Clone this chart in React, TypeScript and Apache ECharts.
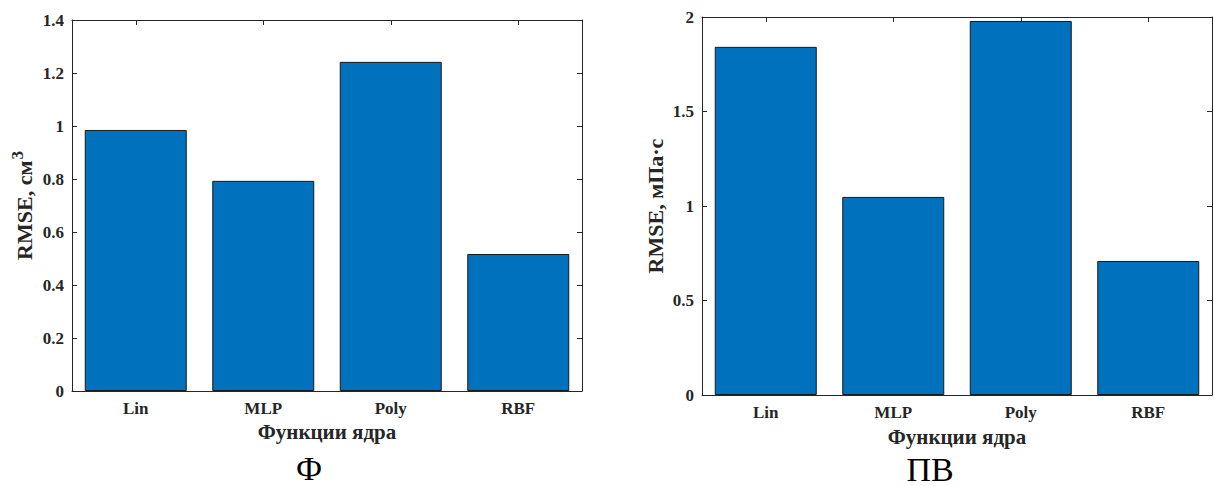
import React, { useEffect, useRef } from "react";
import * as echarts from "echarts";

const categories = ["Lin", "MLP", "Poly", "RBF"];
const leftValues = [0.985, 0.793, 1.242, 0.517];
const rightValues = [1.842, 1.048, 1.979, 0.709];
const leftTicks = { min: 0, max: 1.4, interval: 0.2 };
const rightTicks = { min: 0, max: 2, interval: 0.5 };
const xName = "Функции ядра";
const leftYName = "{b|RMSE, см}{s|3}";
const rightYName = "{b|RMSE, мПа·с}";
const leftCaption = "Ф";
const rightCaption = "ПВ";

const FONT = "'Liberation Serif', 'Times New Roman', serif";
const AX = "#262626";

export default function App() {
  const ref = useRef<HTMLDivElement>(null);
  useEffect(() => {
    document.body.style.margin = "0";
    const chart = echarts.init(ref.current!, undefined, { renderer: "svg" });
    const grids = [
      { left: 72, top: 20, width: 510, height: 371 },
      { left: 702, top: 17, width: 510, height: 378 },
    ];
    const labelStyle = { fontFamily: FONT, fontWeight: "bold", fontSize: 17, color: AX };
    const mkX = (gi: number, top: boolean, gap: number) => ({
      type: "category",
      gridIndex: gi,
      position: top ? "top" : "bottom",
      data: categories,
      axisLine: { show: true, onZero: false, lineStyle: { color: AX, width: 1 } },
      axisTick: { show: true, inside: true, alignWithLabel: true, length: 5, lineStyle: { color: AX } },
      axisLabel: top ? { show: false } : { ...labelStyle, margin: 9 },
      name: top ? "" : xName,
      nameLocation: "middle",
      nameGap: gap,
      nameTextStyle: { fontFamily: FONT, fontWeight: "bold", fontSize: 21, color: AX },
      splitLine: { show: false },
    });
    const mkY = (gi: number, right: boolean, t: any, name: string, gap: number) => ({
      type: "value",
      gridIndex: gi,
      position: right ? "right" : "left",
      min: t.min,
      max: t.max,
      interval: t.interval,
      axisLine: { show: true, onZero: false, lineStyle: { color: AX, width: 1 } },
      axisTick: { show: true, inside: true, length: 5, lineStyle: { color: AX } },
      axisLabel: right ? { show: false } : { ...labelStyle, margin: 8 },
      splitLine: { show: false },
      name: right ? "" : name,
      nameLocation: "middle",
      nameGap: gap,
      nameRotate: 90,
      nameTextStyle: {
        color: AX,
        rich: {
          b: { fontFamily: FONT, fontWeight: "bold", fontSize: 22, color: AX },
          s: { fontFamily: FONT, fontWeight: "bold", fontSize: 17, color: AX, padding: [0, 0, 14, 1] },
        },
      },
    });
    const barStyle = { color: "#0072BD", borderColor: "#1a1a1a", borderWidth: 1 };
    chart.setOption({
      animation: false,
      grid: grids,
      xAxis: [mkX(0, false, 30), mkX(0, true, 0), mkX(1, false, 31), mkX(1, true, 0)],
      yAxis: [
        mkY(0, false, leftTicks, leftYName, 32),
        mkY(0, true, leftTicks, "", 0),
        mkY(1, false, rightTicks, rightYName, 36),
        mkY(1, true, rightTicks, "", 0),
      ],
      series: [
        { type: "bar", xAxisIndex: 0, yAxisIndex: 0, data: leftValues, barWidth: "80%", itemStyle: barStyle },
        { type: "bar", xAxisIndex: 2, yAxisIndex: 2, data: rightValues, barWidth: "80%", itemStyle: barStyle },
      ],
      graphic: [
        {
          type: "text",
          x: 309,
          y: 469,
          style: { text: leftCaption, font: `33px ${FONT}`, fill: "#000", align: "center", verticalAlign: "middle" },
        },
        {
          type: "text",
          x: 930,
          y: 469,
          style: { text: rightCaption, font: `34px ${FONT}`, fill: "#000", align: "center", verticalAlign: "middle" },
        },
      ],
    });
    return () => chart.dispose();
  }, []);
  return <div ref={ref} style={{ position: "absolute", left: 0, top: 0, width: 1214, height: 486 }} />;
}
